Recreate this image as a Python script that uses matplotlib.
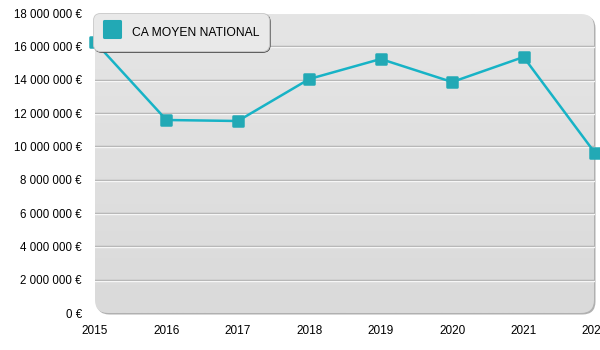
import matplotlib
matplotlib.use("Agg")
import matplotlib.pyplot as plt
import matplotlib.transforms as mtransforms
import numpy as np
from matplotlib.patches import FancyBboxPatch
from matplotlib.lines import Line2D
from matplotlib.markers import MarkerStyle
from matplotlib.colors import LinearSegmentedColormap

plt.rcParams['font.family'] = ['Liberation Sans', 'DejaVu Sans']

years = [2015, 2016, 2017, 2018, 2019, 2020, 2021, 2022]
ca_moyen = [16260000, 11580000, 11520000, 14040000, 15240000, 13860000, 15360000, 9600000]
y_ticks = [0, 2000000, 4000000, 6000000, 8000000, 10000000, 12000000, 14000000, 16000000, 18000000]
series_label = "CA MOYEN NATIONAL"

line_color = "#17b3c6"
marker_color = "#22a9b5"

W, H = 600, 350
fig = plt.figure(figsize=(W / 100, H / 100), dpi=100)
fig.patch.set_facecolor("white")

left_px, right_px, top_px, bottom_px = 95, 595, 13, 313
rect = [left_px / W, 1 - bottom_px / H, (right_px - left_px) / W, (bottom_px - top_px) / H]

# background panel in pixel units (rounded corners, vertical gradient, soft shadow)
bg = fig.add_axes(rect, zorder=0)
pw, ph = right_px - left_px, bottom_px - top_px
bg.set_xlim(0, pw)
bg.set_ylim(0, ph)
bg.axis("off")
shadow = FancyBboxPatch((1.5, -1.5), pw - 1, ph - 1, boxstyle="round,pad=0,rounding_size=13",
                        facecolor="#b0b0b0", edgecolor="none", clip_on=False)
bg.add_patch(shadow)
panel = FancyBboxPatch((0, 0), pw - 1, ph - 1, boxstyle="round,pad=0,rounding_size=13",
                       facecolor="none", edgecolor="none", clip_on=False)
bg.add_patch(panel)
grad = np.linspace(0, 1, 256).reshape(-1, 1)
cmap = LinearSegmentedColormap.from_list("panel", ["#dadada", "#e5e5e5"])
img = bg.imshow(grad, extent=[0, pw - 1, 0, ph - 1], origin="lower", cmap=cmap,
                aspect="auto", zorder=1)
img.set_clip_path(panel)

# data axes
ax = fig.add_axes(rect, zorder=1)
ax.patch.set_alpha(0)
ax.set_xlim(2015, 2022)
ax.set_ylim(0, 18000000)
for s in ax.spines.values():
    s.set_visible(False)

# engraved grid lines: grey line with a white highlight just beneath
below = mtransforms.offset_copy(ax.transData, fig=fig, x=0, y=-1, units="dots")
for v in y_ticks[1:-1]:
    ax.plot([2015, 2022], [v, v], color="#a9a9a9", lw=1.0, zorder=1)
    ax.plot([2015, 2022], [v, v], color="#f6f6f6", lw=1.0, zorder=1, transform=below)

ax.set_yticks(y_ticks)
ax.set_yticklabels([("{:,}".format(v).replace(",", " ") + " €") for v in y_ticks], fontsize=8.3)
ax.set_xticks(years)
ax.set_xticklabels([str(y) for y in years], fontsize=8.5)
ax.tick_params(length=0, pad=9.4, axis="y")
ax.tick_params(length=0, pad=9.0, axis="x")

rounded_square = MarkerStyle("s", joinstyle="round")
ax.plot(years, ca_moyen, color=line_color, lw=1.8, zorder=3, clip_on=False)
ax.plot(years, ca_moyen, linestyle="none", marker=rounded_square, markersize=7.0,
        markerfacecolor=marker_color, markeredgecolor=marker_color, markeredgewidth=1.8,
        zorder=4, clip_on=False)

handle = Line2D([], [], linestyle="none", marker=MarkerStyle("s", joinstyle="round"),
                markersize=12, markerfacecolor=marker_color,
                markeredgecolor=marker_color, markeredgewidth=2.2)
leg = ax.legend([handle], [series_label], loc="upper left", bbox_to_anchor=(-0.004, 1),
                borderaxespad=0, fontsize=8.7, frameon=True, fancybox=True,
                facecolor="#e9e9e9", edgecolor="#c8c8c8", framealpha=1,
                handlelength=1.6, handleheight=2.0, handletextpad=0.8, borderpad=0.8,
                shadow={"ox": 1.0, "oy": -1.0, "facecolor": "#b8b8b8", "alpha": 1})
leg.get_frame().set_linewidth(0.6)
leg.get_frame().set_boxstyle("round,pad=0,rounding_size=0.6")
leg.set_zorder(5)

fig.savefig("out.png", dpi=100, facecolor="white")
